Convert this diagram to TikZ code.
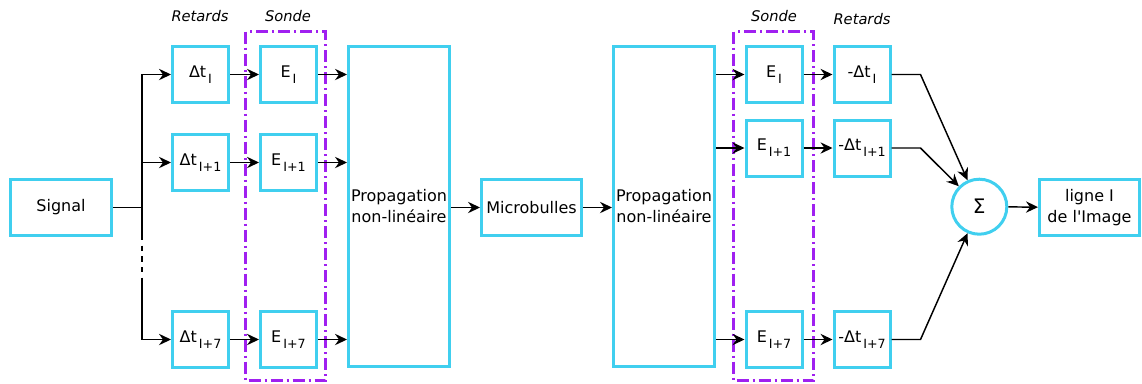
\documentclass[tikz,border=0pt]{standalone}
\usepackage{fontspec}
\setmainfont{DejaVu Sans}
\usetikzlibrary{arrows.meta}
\definecolor{boxcyan}{RGB}{64,207,239}
\definecolor{sondepurple}{RGB}{160,32,240}
\newcommand{\idx}[1]{\hspace{1.5pt}\raisebox{-4.5pt}{\fontsize{9.5}{10}\selectfont #1}}

\begin{document}
\begin{tikzpicture}[x=0.75pt,y=-0.75pt,
  box/.style={draw=boxcyan, line width=2.25pt, minimum width=42pt, minimum height=42pt,
    inner sep=1pt, align=center, font=\fontsize{12}{15.75}\selectfont},
  widebox/.style={box, minimum width=75.75pt},
  propbox/.style={widebox, minimum height=240pt},
  sumnode/.style={circle, draw=boxcyan, line width=2.25pt, minimum size=41.25pt,
    inner sep=0pt, font=\fontsize{15}{17}\selectfont},
  link/.style={line width=1.1pt, -{Stealth[length=9pt,width=8.5pt,inset=3pt]}},
  wire/.style={line width=1.1pt},
  sondebox/.style={draw=sondepurple, line width=2.25pt,
    dash pattern=on 9pt off 3pt on 1.5pt off 3pt},
  tag/.style={font=\fontsize{11}{13}\selectfont\itshape}]
  \useasboundingbox (0,0) rectangle (1142,383);

  \draw[sondebox] (245.5,31.5) rectangle (325.5,380.5);
  \draw[sondebox] (733.5,31.5) rectangle (813.5,380.5);

  \node[tag] (retardsL) at (200,16) {Retards};
  \node[tag] (sondeL) at (288,16) {Sonde};
  \node[tag] (sondeR) at (774,16) {Sonde};
  \node[tag] (retardsR) at (862,19) {Retards};

  \node[widebox] (sig) at (61,207.5) {Signal};
  \node[box] (dt1) at (200.5,74.5) {Δt\idx{I}};
  \node[box] (dt2) at (200.5,162.5) {Δt\idx{I+1}};
  \node[box] (dt3) at (200.5,339.5) {Δt\idx{I+7}};
  \node[box] (e1) at (288.5,74.5) {E\idx{I}};
  \node[box] (e2) at (288.5,162.5) {E\idx{I+1}};
  \node[box] (e3) at (288.5,339.5) {E\idx{I+7}};
  \node[propbox] (prop1) at (399,206.5) {Propagation\\non-linéaire};
  \node[widebox, minimum width=75pt] (micro) at (531.5,207.5) {Microbulles};
  \node[propbox] (prop2) at (664,206.5) {Propagation\\non-linéaire};
  \node[box] (re1) at (774,74.5) {E\idx{I}};
  \node[box] (re2) at (774,148) {E\idx{I+1}};
  \node[box] (re3) at (774,339.5) {E\idx{I+7}};
  \node[box] (rd1) at (862,74.5) {-Δt\idx{I}};
  \node[box] (rd2) at (862,148) {-Δt\idx{I+1}};
  \node[box] (rd3) at (862,339.5) {-Δt\idx{I+7}};
  \node[sumnode] (sum) at (979.3,206.7) {Σ};
  \node[widebox, minimum width=75pt] (img) at (1089.5,207.5) {ligne I\\de l\textquotesingle Image};

  \coordinate (fork) at (142,207.5);
  \coordinate (gapA) at (142,235);
  \coordinate (gapB) at (142,281);
  \draw[wire] (sig.east) -- (fork);
  \draw[link] (fork) |- (dt1.west);
  \draw[link] (fork) |- (dt2.west);
  \draw[wire] (fork) -- (gapA);
  \draw[wire, dash pattern=on 4pt off 4pt] (gapA) -- (gapB);
  \draw[link] (gapB) |- (dt3.west);

  \foreach \i in {1,2,3} {
    \draw[link] (dt\i.east) -- (e\i.west);
    \draw[link] (e\i.east) -- (e\i.east -| prop1.west);
    \draw[link] (prop2.east |- re\i.west) -- (re\i.west);
    \draw[link] (re\i.east) -- (rd\i.west);
    \draw[link] (rd\i.east) -- ++(29,0) -- (sum);
  }
  \draw[link] (prop1.east |- micro.west) -- (micro.west);
  \draw[link] (micro.east) -- (micro.east -| prop2.west);
  \draw[link] (sum) -- (img);
\end{tikzpicture}
\end{document}
